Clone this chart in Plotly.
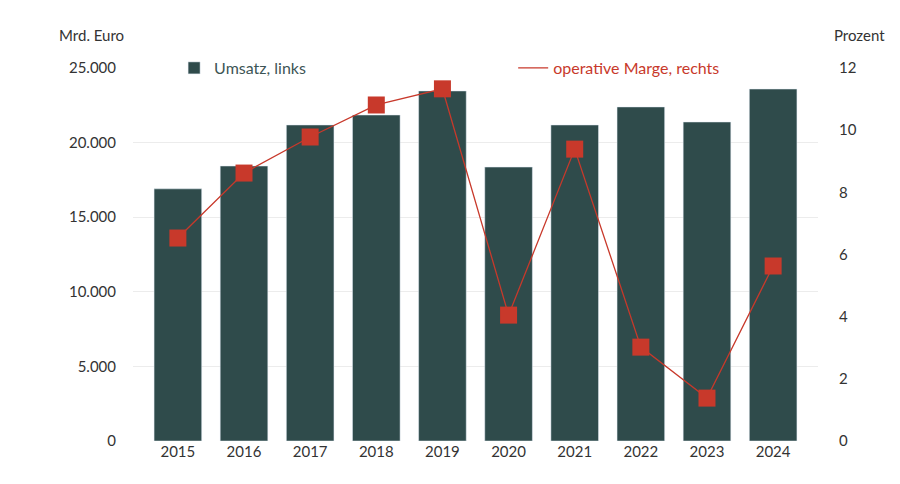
import plotly.graph_objects as go

years = ["2015", "2016", "2017", "2018", "2019", "2020", "2021", "2022", "2023", "2024"]
umsatz = [16900, 18430, 21180, 21850, 23460, 18360, 21180, 22390, 21380, 23590]
marge = [6.53, 8.62, 9.78, 10.81, 11.33, 4.05, 9.39, 3.02, 1.38, 5.63]

bar_col = "#2f4b4b"
red = "#c8392b"
txt = "#333333"

fig = go.Figure()
fig.add_trace(go.Bar(x=years, y=umsatz, name="Umsatz, links", marker_color=bar_col,
                     width=0.72, legend="legend"))
fig.add_trace(go.Scatter(x=years, y=marge, name="operative Marge, rechts", yaxis="y2",
                         mode="lines+markers", line=dict(color=red, width=1.3),
                         marker=dict(symbol="square", size=17, color=red),
                         showlegend=False))
# legend entry only (line without marker)
fig.add_trace(go.Scatter(x=[None], y=[None], name="operative Marge, rechts", yaxis="y2",
                         mode="lines", line=dict(color=red, width=1.3), legend="legend2"))

fig.update_layout(
    width=900, height=484,
    paper_bgcolor="white", plot_bgcolor="white",
    margin=dict(l=125, r=90, t=60, b=51, autoexpand=False),
    font=dict(family="Lato, Open Sans, sans-serif", size=15, color=txt),
    separators=",.",
    legend=dict(x=0.06, y=1.0, yanchor="middle", xanchor="left",
                bgcolor="rgba(0,0,0,0)", font=dict(size=16, color="#3d5555")),
    legend2=dict(x=0.555, y=1.0, yanchor="middle", xanchor="left",
                 bgcolor="rgba(0,0,0,0)", font=dict(size=16, color=red)),
    xaxis=dict(showgrid=False, ticks="", showline=False, tickfont=dict(size=15)),
    yaxis=dict(range=[0, 25000], tickvals=[0, 5000, 10000, 15000, 20000, 25000],
               tickformat=",d", showgrid=True, gridcolor="#ececec", zeroline=False,
               ticks="", ticklabelstandoff=16),
    yaxis2=dict(range=[0, 12], tickvals=[0, 2, 4, 6, 8, 10, 12], overlaying="y",
                side="right", showgrid=False, zeroline=False, ticks="",
                ticklabelstandoff=20),
    annotations=[
        dict(text="Mrd. Euro", xref="paper", yref="paper", x=-0.06, y=1.06,
             xanchor="center", yanchor="bottom", showarrow=False, font=dict(size=15)),
        dict(text="Prozent", xref="paper", yref="paper", x=1.06, y=1.06,
             xanchor="center", yanchor="bottom", showarrow=False, font=dict(size=15)),
    ],
)

fig.write_html("out.html")
